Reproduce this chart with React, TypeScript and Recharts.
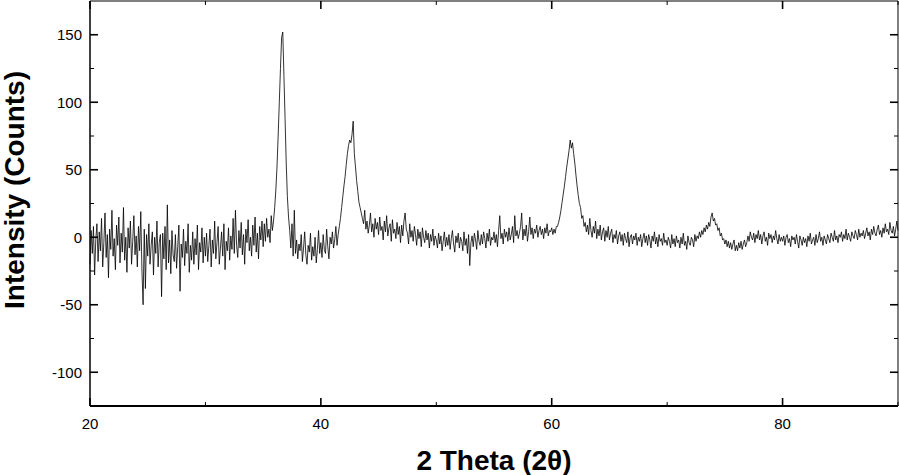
import { LineChart, Line, XAxis, YAxis } from "recharts";

// XRD scan, counts every 0.1° (2θ)
const STEP = 0.1;
const COUNTS_20 = [
  -20, 5, -12, 8, -28, -2, 10, -18, 4, -10,
  14, -22, -4, 18, -15, 2, -30, 6, -9, 20,
  -14, -1, -24, 9, -6, 15, -19, 3, -11, 22,
  -17, 0, -26, 7, -8, 12, -20, -3, 16, -13,
  1, -22, 8, -10, 19, -25, -50, 6, -38, 2,
  -14, 10, -20, -6, 4, -28, 0, -12, 12, -22,
  -4, 2, -44, 3, -16, 8, -24, 24, -19, -2,
  -27, 5, -13, -18, 2, -23, -7, 9, -40, -5,
  -15, 6, -21, -3, -12, 10, -26, -6, -17, 4,
  -20, -1, -13, 9, -24, -4, -11, 7, -19, 0,
];
const COUNTS_30 = [
  -14, 3, -18, -6, 6, -22, -2, -12, 12, -16,
  -4, 8, -20, -8, 4, -14, 10, -24, -3, -10,
  7, -17, 1, -9, 14, -12, 20, -6, -15, 5,
  -8, 11, -13, 2, -20, 6, -4, 13, -10, 0,
  -14, 9, -6, 15, -11, 3, -16, 8, -2, 12,
  -7, 10, -3, 14, 0, 6, -4, 16, 5, 12,
  22, 35, 52, 75, 100, 125, 148, 152, 120, 88,
  55, 30, 15, 5, -8, 10, -14, 20, -12, -2,
  -16, -5, -10, 2, -18, -8, 4, -13, -20, -6,
  -11, 3, -17, -7, -14, 0, -19, -9, 5, -12,
];
const COUNTS_40 = [
  -4, -15, 2, -9, -12, 6, -7, -16, 0, -5,
  4, -8, -2, 8, -6, 2, 8, 14, 22, 30,
  38, 45, 54, 62, 68, 72, 70, 76, 86, 62,
  52, 42, 34, 26, 22, 18, 14, 10, 20, 6,
  12, 3, 9, 18, 4, 10, 0, 14, 6, 11,
  2, 15, 5, 8, -2, 12, 4, 16, 1, 7,
  10, -3, 13, 3, 6, -1, 11, 2, 8, -4,
  9, 1, 12, 18, 6, 3, -5, 10, 0, 5,
  -3, 8, 2, -6, 6, -1, 4, -7, 7, 0,
  -4, 5, -2, 3, -8, 2, -3, 6, -6, 1,
];
const COUNTS_50 = [
  -2, -8, 3, -5, 1, -10, -3, 4, -7, 0,
  -6, 2, -9, -1, 5, -5, -11, 1, -4, 3,
  -8, 0, -3, -10, 4, -6, -1, -12, 2, -21,
  -4, 1, -7, 3, -2, -9, 5, -3, -6, 2,
  -5, 4, -1, -8, 3, -3, 6, -6, 0, -2,
  4, -4, 2, -7, 5, 16, -1, 3, -5, 6,
  0, 4, -3, 7, -2, 2, 8, -4, 16, 1,
  5, -1, 3, 8, 18, -2, 6, 1, 9, -3,
  4, 15, 2, 7, -1, 6, 3, 9, 0, 5,
  8, 2, 6, -1, 7, 3, 10, 1, 5, 4,
];
const COUNTS_60 = [
  7, 2, 6, 3, 8, 8, 11, 15, 20, 26,
  32, 38, 45, 52, 58, 64, 72, 66, 70, 62,
  55, 46, 38, 31, 25, 22, 14, 16, 8, 11,
  4, 9, 2, 14, 5, 0, 8, 3, 12, -1,
  6, 1, 9, -2, 4, 7, -3, 5, 0, 8,
  -2, 3, 6, -4, 2, -1, 5, -5, 1, 4,
  -3, 2, -6, 3, -1, -4, 4, -7, 0, 2,
  -5, 1, -2, 3, -6, 0, -3, 2, -7, -1,
  3, -4, 1, -6, 2, -2, -8, 1, -3, 4,
  -5, 0, -7, 2, -3, -1, -6, 3, -4, -2,
];
const COUNTS_70 = [
  -6, 0, -3, -8, 2, -5, -1, -7, 1, -4,
  -2, -8, 0, -5, 3, -6, -3, -9, 1, -4,
  -6, 0, -2, -7, 2, -3, 1, -1, 4, 0,
  5, 2, 7, 4, 9, 6, 11, 8, 15, 18,
  12, 14, 9, 10, 5, 7, 1, 3, -2, -1,
  -5, -2, -7, -3, -8, -4, -9, -5, -2, -10,
  -6, -10, -4, -8, -3, -9, -5, -2, -7, -4,
  1, -3, 4, 0, -2, 3, -4, 2, -1, 5,
  -2, 2, -5, 1, 4, -3, 0, -6, 3, -1,
  2, -4, 1, -2, 5, -1, -5, 2, -3, 0,
];
const COUNTS_80 = [
  -3, 1, -6, 0, 2, -4, -1, -7, 1, -2,
  0, -5, 2, -3, -8, 1, -2, -6, 0, -4,
  -1, -7, 1, -3, 3, -5, -2, 0, -6, 2,
  -4, -1, 4, -3, 0, -6, 1, -2, -5, 2,
  -1, -4, 3, 0, -3, 5, -2, 1, -4, 2,
  0, 4, -3, 2, -1, 6, -2, 3, 0, -3,
  4, 1, -1, 5, 2, -2, 6, 0, 3, 1,
  5, -1, 3, 7, 1, 4, -2, 6, 2, 8,
  3, 1, 6, 9, 2, 5, 0, 7, 3, 10,
  4, 6, 2, 11, 5, 3, 8, 1, 6, 12, 5,
];

const SEGMENTS: [number, number[]][] = [
  [20, COUNTS_20], [30, COUNTS_30], [40, COUNTS_40], [50, COUNTS_50],
  [60, COUNTS_60], [70, COUNTS_70], [80, COUNTS_80],
];

const X_TICKS = [20, 30, 40, 50, 60, 70, 80, 90];
const X_LABELS = [20, 40, 60, 80];
const Y_TICKS = [-100, -75, -50, -25, 0, 25, 50, 75, 100, 125, 150];
const Y_LABELS = [-100, -50, 0, 50, 100, 150];

const data = SEGMENTS.flatMap(([start, counts]) =>
  counts.map((c, i) => ({ theta: +(start + i * STEP).toFixed(1), counts: c }))
);

const W = 899;
const H = 475;
const PLOT_LEFT = 90;
const PLOT_RIGHT = 898;
const PLOT_TOP = 1;
const PLOT_BOTTOM = 406;
const FONT = "'Liberation Sans', Arial, sans-serif";

// ticks point inward on all four sides
function BottomTick({ x, payload }: any) {
  const major = X_LABELS.includes(payload.value);
  return (
    <g>
      <line x1={x} x2={x} y1={PLOT_BOTTOM} y2={PLOT_BOTTOM - (major ? 8 : 4)}
        stroke="#000" strokeWidth={major ? 1.6 : 1} />
      {major && (
        <text x={x} y={429} textAnchor="middle" fontSize={15} fontFamily={FONT} fill="#000">
          {payload.value}
        </text>
      )}
    </g>
  );
}

function TopTick({ x, payload }: any) {
  const major = X_LABELS.includes(payload.value);
  return (
    <line x1={x} x2={x} y1={PLOT_TOP} y2={PLOT_TOP + (major ? 8 : 4)}
      stroke="#000" strokeWidth={major ? 1.6 : 1} />
  );
}

function LeftTick({ y, payload }: any) {
  const major = Y_LABELS.includes(payload.value);
  return (
    <g>
      <line x1={PLOT_LEFT} x2={PLOT_LEFT + (major ? 8 : 4)} y1={y} y2={y}
        stroke="#000" strokeWidth={major ? 1.6 : 1} />
      {major && (
        <text x={82} y={y} dy="0.36em" textAnchor="end" fontSize={15} fontFamily={FONT} fill="#000">
          {payload.value}
        </text>
      )}
    </g>
  );
}

function RightTick({ y, payload }: any) {
  const major = Y_LABELS.includes(payload.value);
  return (
    <line x1={PLOT_RIGHT} x2={PLOT_RIGHT - (major ? 8 : 4)} y1={y} y2={y}
      stroke="#000" strokeWidth={major ? 1.6 : 1} />
  );
}

export default function App() {
  return (
    <div style={{ position: "absolute", left: 0, top: 0, width: W, height: H, background: "#fff" }}>
      <LineChart
        width={W}
        height={H}
        data={data}
        margin={{ top: 0, right: 0, bottom: H - PLOT_BOTTOM - 30, left: PLOT_LEFT - 60 }}
      >
        <XAxis
          dataKey="theta"
          type="number"
          domain={[20, 90]}
          ticks={X_TICKS}
          interval={0}
          height={30}
          axisLine={{ stroke: "#000", strokeWidth: 2 }}
          tickLine={false}
          tick={<BottomTick />}
          label={{
            content: () => (
              <text x={(PLOT_LEFT + PLOT_RIGHT) / 2} y={470} textAnchor="middle"
                fontSize={28} fontWeight="bold" fontFamily={FONT} fill="#000">
                2 Theta (2θ)
              </text>
            ),
          }}
        />
        <XAxis
          xAxisId="top"
          dataKey="theta"
          type="number"
          orientation="top"
          domain={[20, 90]}
          ticks={X_TICKS}
          interval={0}
          height={PLOT_TOP}
          axisLine={{ stroke: "#000", strokeWidth: 1 }}
          tickLine={false}
          tick={<TopTick />}
        />
        <YAxis
          type="number"
          domain={[-125, 175]}
          ticks={Y_TICKS}
          interval={0}
          width={60}
          axisLine={{ stroke: "#000", strokeWidth: 1.5 }}
          tickLine={false}
          tick={<LeftTick />}
          label={{
            content: () => (
              <text x={24} y={190} transform="rotate(-90, 24, 190)" textAnchor="middle"
                fontSize={28} fontWeight="bold" fontFamily={FONT} fill="#000">
                Intensity (Counts)
              </text>
            ),
          }}
        />
        <YAxis
          yAxisId="right"
          type="number"
          orientation="right"
          domain={[-125, 175]}
          ticks={Y_TICKS}
          interval={0}
          width={W - PLOT_RIGHT}
          axisLine={{ stroke: "#000", strokeWidth: 1 }}
          tickLine={false}
          tick={<RightTick />}
        />
        <Line
          dataKey="counts"
          type="linear"
          stroke="#000"
          strokeWidth={0.8}
          dot={false}
          isAnimationActive={false}
        />
        <Line
          xAxisId="top"
          yAxisId="right"
          dataKey="counts"
          stroke="none"
          dot={false}
          legendType="none"
          isAnimationActive={false}
        />
      </LineChart>
    </div>
  );
}
